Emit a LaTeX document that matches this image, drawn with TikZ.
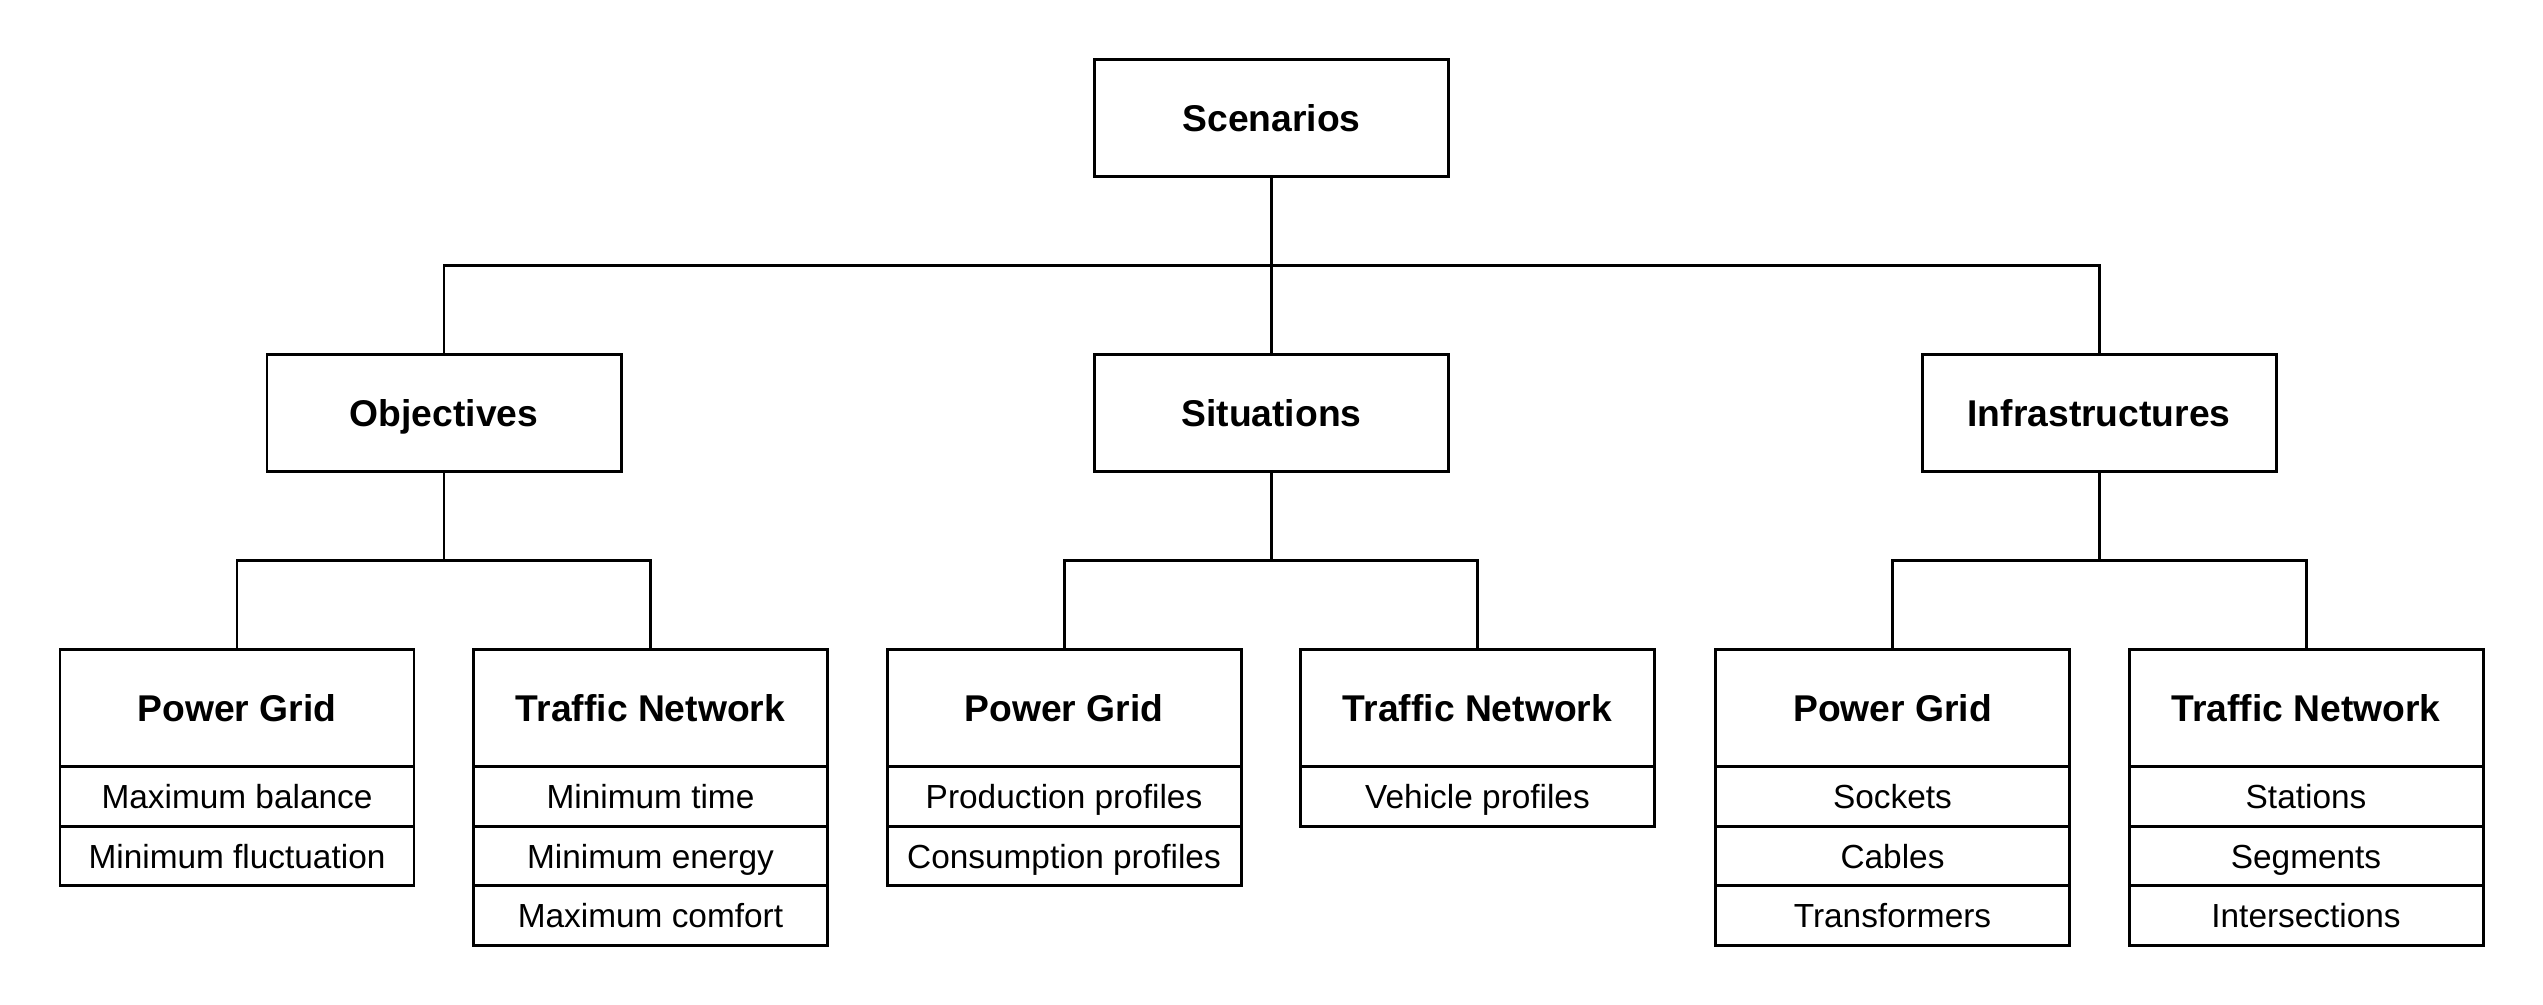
\documentclass[tikz,border=0pt]{standalone}
\usepackage{fontspec}
\setmainfont{Liberation Sans}
\usepackage{tikz}
\usetikzlibrary{positioning}

\begin{document}
\begin{tikzpicture}[
    every node/.style={draw, line width=0.85pt, inner sep=0pt, outer sep=0pt},
    head/.style={minimum width=3.54cm, minimum height=1.17cm, text height=7.6pt, text depth=0pt,
      font=\fontsize{10.6}{12}\selectfont\bfseries},
    item/.style={minimum width=3.54cm, minimum height=0.595cm, text height=6.8pt, text depth=0pt,
      font=\fontsize{9.5}{11}\selectfont},
    every path/.style={line width=0.85pt},
  ]
  \useasboundingbox (0,0) rectangle (25.43,10.05);

  % top level
  \node[head] (scen) at (12.715, 8.865) {Scenarios};

  \node[head] (obj)   at (4.44, 5.915)   {Objectives};
  \node[head] (sit)   at (12.715, 5.915) {Situations};
  \node[head] (infra) at (20.99, 5.915)  {Infrastructures};

  % bottom level
  \node[head] (objpg) at (2.37, 2.965)   {Power Grid};
  \node[head] (objtn) at (6.505, 2.965)  {Traffic Network};
  \node[head] (sitpg) at (10.64, 2.965)  {Power Grid};
  \node[head] (sittn) at (14.775, 2.965) {Traffic Network};
  \node[head] (infpg) at (18.925, 2.965) {Power Grid};
  \node[head] (inftn) at (23.06, 2.965)  {Traffic Network};

  \node[item, below=0pt of objpg] (objpga) {Maximum balance};
  \node[item, below=0pt of objpga] (objpgb) {Minimum fluctuation};

  \node[item, below=0pt of objtn] (objtna) {Minimum time};
  \node[item, below=0pt of objtna] (objtnb) {Minimum energy};
  \node[item, below=0pt of objtnb] (objtnc) {Maximum comfort};

  \node[item, below=0pt of sitpg] (sitpga) {Production profiles};
  \node[item, below=0pt of sitpga] (sitpgb) {Consumption profiles};

  \node[item, below=0pt of sittn] (sittna) {Vehicle profiles};

  \node[item, below=0pt of infpg] (infpga) {Sockets};
  \node[item, below=0pt of infpga] (infpgb) {Cables};
  \node[item, below=0pt of infpgb] (infpgc) {Transformers};

  \node[item, below=0pt of inftn] (inftna) {Stations};
  \node[item, below=0pt of inftna] (inftnb) {Segments};
  \node[item, below=0pt of inftnb] (inftnc) {Intersections};

  % connectors
  \coordinate (bus) at (12.715, 7.39);
  \draw (scen.south) -- (sit.north);
  \draw (obj.north) |- (bus) -| (infra.north);

  \foreach \p/\a/\b in {obj/objpg/objtn, sit/sitpg/sittn, infra/infpg/inftn} {
    \draw (\p.south) -- ++(0,-0.89) coordinate (\p bus);
    \draw (\a.north) |- (\p bus) -| (\b.north);
  }

\end{tikzpicture}
\end{document}
